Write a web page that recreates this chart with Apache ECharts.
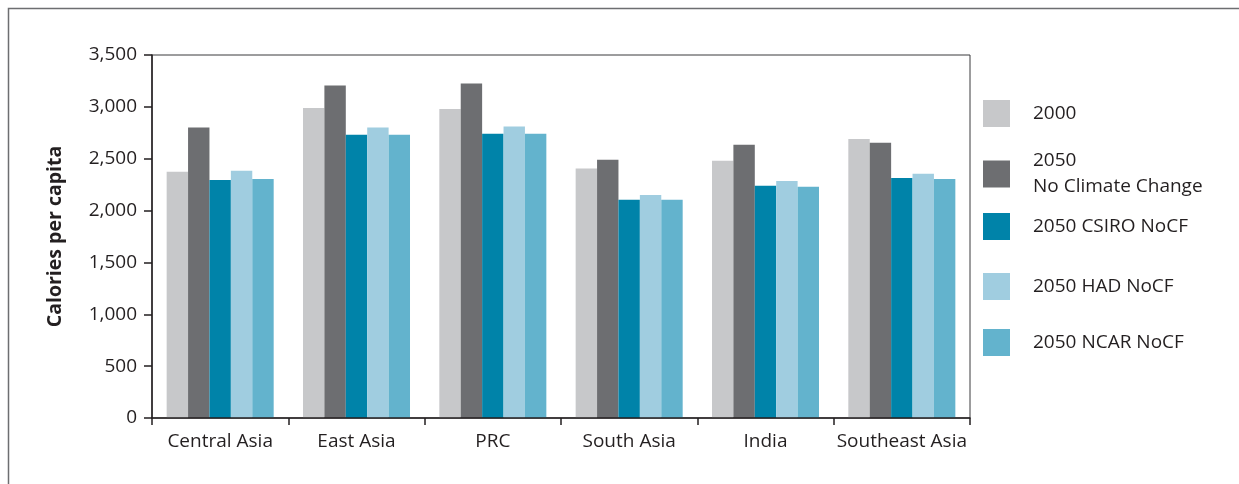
<!DOCTYPE html>
<html>
<head>
<meta charset="utf-8">
<title>Calories per capita</title>
<script src="https://cdn.jsdelivr.net/npm/echarts@6/dist/echarts.min.js"></script>
<style>
  html, body { margin: 0; padding: 0; background: #fff; }
  #chart { width: 1239px; height: 484px; }
</style>
</head>
<body>
<div id="chart"></div>
<script>
// Regions along the horizontal axis
const regions = ['Central Asia', 'East Asia', 'PRC', 'South Asia', 'India', 'Southeast Asia'];

// Calories per capita by scenario
const y2000      = [2375, 2990, 2980, 2405, 2480, 2690];
const y2050NoCC  = [2800, 3205, 3225, 2490, 2635, 2655];
const y2050CSIRO = [2295, 2730, 2740, 2105, 2240, 2315];
const y2050HAD   = [2385, 2800, 2810, 2150, 2285, 2355];
const y2050NCAR  = [2305, 2730, 2740, 2105, 2230, 2305];

const seriesNames = ['2000', '2050 No Climate Change', '2050 CSIRO NoCF', '2050 HAD NoCF', '2050 NCAR NoCF'];
const seriesData = [y2000, y2050NoCC, y2050CSIRO, y2050HAD, y2050NCAR];
const colors = ['#c7c8ca', '#6d6e71', '#0083a9', '#a0cde0', '#63b3cd'];

// Y-axis ticks
const yMin = 0, yMax = 3500, yStep = 500;

const FONT = '"Open Sans", "Noto Sans", sans-serif';
const TEXT = '#231f20';
const FS = 19;

const chart = echarts.init(document.getElementById('chart'), null, { renderer: 'canvas' });

// One legend block per series so each entry sits at its own height
const legendTops = [100, 148, 213, 273, 329];
const legends = seriesNames.map((name, i) => ({
  show: true,
  data: [name],
  orient: 'vertical',
  left: 983,
  top: legendTops[i],
  itemWidth: 27,
  itemHeight: 27,
  itemGap: 0,
  padding: 0,
  icon: 'rect',
  selectedMode: false,
  formatter: n => n === '2050 No Climate Change' ? '2050\nNo Climate Change' : n,
  textStyle: {
    fontFamily: FONT,
    fontSize: FS,
    color: TEXT,
    lineHeight: 26,
    padding: [0, 0, 0, 18]
  }
}));

const option = {
  animation: false,
  backgroundColor: '#ffffff',
  textStyle: { fontFamily: FONT, color: TEXT },
  legend: legends,
  grid: {
    left: 152, right: 269, top: 55, bottom: 66,
    show: true, borderColor: '#3a3a3c', borderWidth: 1, backgroundColor: 'transparent'
  },
  xAxis: {
    type: 'category',
    data: regions,
    z: 5,
    axisLine: { show: true, lineStyle: { color: '#231f20', width: 1.5 } },
    axisTick: { show: true, length: 7, lineStyle: { color: '#231f20', width: 1.5 } },
    axisLabel: { fontFamily: FONT, fontSize: FS, color: TEXT, margin: 14, interval: 0 },
    splitLine: { show: false }
  },
  yAxis: {
    type: 'value',
    min: yMin, max: yMax, interval: yStep,
    z: 5,
    name: 'Calories per capita',
    nameLocation: 'middle',
    nameGap: 87,
    nameTextStyle: { fontFamily: FONT, fontSize: 19.5, fontWeight: 'bold', color: TEXT },
    axisLine: { show: true, lineStyle: { color: '#231f20', width: 1.5 } },
    axisTick: { show: true, length: 8, lineStyle: { color: '#231f20', width: 1.5 } },
    axisLabel: {
      fontFamily: FONT, fontSize: FS, color: TEXT, margin: 15,
      formatter: v => v.toLocaleString('en-US')
    },
    splitLine: { show: false }
  },
  series: seriesNames.map((name, i) => ({
    name: name,
    type: 'bar',
    data: seriesData[i],
    barGap: '0%',
    barCategoryGap: '21.5%',
    itemStyle: { color: colors[i] }
  })),
  graphic: [
    {
      type: 'rect',
      silent: true,
      shape: { x: 8.5, y: 8.5, width: 1300, height: 600 },
      style: { fill: 'none', stroke: '#6d6e71', lineWidth: 1.5 }
    }
  ]
};

chart.setOption(option);
</script>
</body>
</html>
